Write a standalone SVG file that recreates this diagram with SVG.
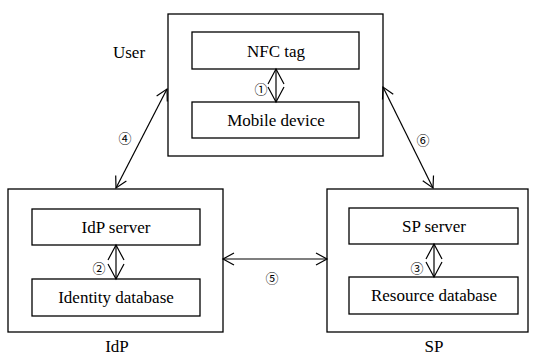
<svg xmlns="http://www.w3.org/2000/svg" width="540" height="356" viewBox="0 0 540 356">
<defs>
<marker id="ah" markerUnits="userSpaceOnUse" markerWidth="16" markerHeight="16" viewBox="-14 -8 16 16" refX="0" refY="0" orient="auto-start-reverse">
<path d="M-11,-6 L0,0 L-11,6" fill="none" stroke="#000" stroke-width="1.2"/>
</marker>
<marker id="ahw" markerUnits="userSpaceOnUse" markerWidth="20" markerHeight="20" viewBox="-18 -10 20 20" refX="0" refY="0" orient="auto-start-reverse">
<path d="M-15,-8 L0,0 L-15,8" fill="none" stroke="#000" stroke-width="1.2"/>
</marker>
</defs>
<rect width="540" height="356" fill="#fff"/>
<g id="user">
<rect x="168" y="14" width="215" height="142" fill="#fff" stroke="#000" stroke-width="1.3"/>
<text x="129" y="58" font-family="serif" font-size="17" text-anchor="middle">User</text>
</g>
<g id="nfc-tag">
<rect x="192" y="32" width="167" height="37" fill="#fff" stroke="#000" stroke-width="1.3"/>
<text x="276" y="57" font-family="serif" font-size="17" text-anchor="middle">NFC tag</text>
</g>
<g id="mobile-device">
<rect x="192" y="102" width="167" height="36" fill="#fff" stroke="#000" stroke-width="1.3"/>
<text x="276" y="126" font-family="serif" font-size="17" text-anchor="middle">Mobile device</text>
</g>
<g id="idp">
<rect x="8" y="189" width="215" height="143" fill="#fff" stroke="#000" stroke-width="1.3"/>
<text x="117" y="352" font-family="serif" font-size="17" text-anchor="middle">IdP</text>
</g>
<g id="idp-server">
<rect x="32" y="209" width="168" height="36" fill="#fff" stroke="#000" stroke-width="1.3"/>
<text x="116" y="233" font-family="serif" font-size="17" text-anchor="middle">IdP server</text>
</g>
<g id="identity-database">
<rect x="32" y="279" width="168" height="37" fill="#fff" stroke="#000" stroke-width="1.3"/>
<text x="116" y="303" font-family="serif" font-size="17" text-anchor="middle">Identity database</text>
</g>
<g id="sp">
<rect x="327" y="189" width="201" height="143" fill="#fff" stroke="#000" stroke-width="1.3"/>
<text x="434" y="352" font-family="serif" font-size="17" text-anchor="middle">SP</text>
</g>
<g id="sp-server">
<rect x="349" y="208" width="169" height="36" fill="#fff" stroke="#000" stroke-width="1.3"/>
<text x="434" y="232" font-family="serif" font-size="17" text-anchor="middle">SP server</text>
</g>
<g id="resource-database">
<rect x="349" y="277" width="169" height="37" fill="#fff" stroke="#000" stroke-width="1.3"/>
<text x="434" y="301" font-family="serif" font-size="17" text-anchor="middle">Resource database</text>
</g>
<g id="connectors" stroke="#000" stroke-width="1.2" fill="none">
<line x1="276" y1="69" x2="276" y2="102" marker-start="url(#ahw)" marker-end="url(#ahw)"/>
<line x1="116" y1="245" x2="116" y2="279" marker-start="url(#ahw)" marker-end="url(#ahw)"/>
<line x1="434" y1="244" x2="434" y2="277" marker-start="url(#ahw)" marker-end="url(#ahw)"/>
<line x1="167" y1="89" x2="116" y2="188" marker-start="url(#ah)" marker-end="url(#ah)"/>
<line x1="383" y1="87" x2="433" y2="188" marker-start="url(#ah)" marker-end="url(#ah)"/>
<line x1="223" y1="259" x2="327" y2="259" marker-start="url(#ah)" marker-end="url(#ah)"/>
</g>
<g id="labels">
<text x="261" y="94" font-family="Noto Sans CJK SC" font-size="13" text-anchor="middle">①</text>
<text x="99" y="273" font-family="Noto Sans CJK SC" font-size="13" text-anchor="middle">②</text>
<text x="417" y="273" font-family="Noto Sans CJK SC" font-size="13" text-anchor="middle">③</text>
<text x="125" y="143" font-family="Noto Sans CJK SC" font-size="13" text-anchor="middle">④</text>
<text x="272" y="283" font-family="Noto Sans CJK SC" font-size="13" text-anchor="middle">⑤</text>
<text x="423" y="145" font-family="Noto Sans CJK SC" font-size="13" text-anchor="middle">⑥</text>
</g>
</svg>
